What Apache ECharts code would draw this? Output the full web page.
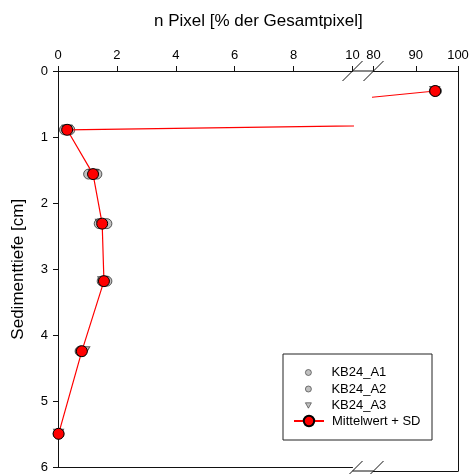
<!DOCTYPE html>
<html>
<head>
<meta charset="utf-8">
<script src="https://cdn.jsdelivr.net/npm/echarts@6/dist/echarts.min.js"></script>
<style>
  html, body { margin: 0; padding: 0; background: #fff; }
  #chart { width: 472px; height: 474px; }
</style>
</head>
<body>
<div id="chart"></div>
<script>
// Sediment depth (cm) for each sampled layer
const depth = [0.3, 0.89, 1.56, 2.31, 3.18, 4.24, 5.49];
// Pixel share (% of total pixels) per replicate and their mean
const kb24A1 = [94.4, 0.22, 1.04, 1.40, 1.50, 0.75, 0.01];
const kb24A2 = [94.9, 0.40, 1.32, 1.66, 1.66, 0.77, 0.03];
const kb24A3 = [94.5, 0.31, 1.21, 1.44, 1.52, 0.91, 0.02];
const mittelwert = [94.6, 0.31, 1.19, 1.50, 1.56, 0.81, 0.02];

// Axis ranges of the broken x axis and the depth axis
const xLowTicks = [0, 2, 4, 6, 8, 10];
const xHighTicks = [80, 90, 100];
const depthTicks = [0, 1, 2, 3, 4, 5, 6];

const FONT = 'Liberation Sans, Arial, Helvetica, sans-serif';
const TRIANGLE_DOWN = 'path://M0,0 L10,0 L5,9 Z';

// Plot layout (pixels)
const TOP = 71, HEIGHT = 400;
const LOW_LEFT = 58, LOW_W = 294.5;
const HIGH_LEFT = 373.5, HIGH_W = 84.5;
const BOTTOM = TOP + HEIGHT;
const GAP_L = LOW_LEFT + LOW_W, GAP_R = HIGH_LEFT;

const pairs = vals => vals.map((v, i) => [v, depth[i]]);

const labelStyle = { fontFamily: FONT, fontSize: 13, color: '#000' };
const lineStyleAxis = { color: '#111', width: 1 };

function topAxis(grid, min, max, step) {
  return {
    type: 'value', gridIndex: grid, position: 'top', min: min, max: max, interval: step,
    axisLine: { show: true, onZero: false, lineStyle: lineStyleAxis },
    axisTick: { show: true, inside: false, length: 5, lineStyle: lineStyleAxis },
    axisLabel: Object.assign({ margin: 9, showMinLabel: true, showMaxLabel: true }, labelStyle),
    splitLine: { show: false }
  };
}
function bottomAxis(grid, min, max) {
  return {
    type: 'value', gridIndex: grid, position: 'bottom', min: min, max: max,
    axisLine: { show: true, onZero: false, lineStyle: lineStyleAxis },
    axisTick: { show: false }, axisLabel: { show: false }, splitLine: { show: false }
  };
}

function seriesFor(grid) {
  const ax = { xAxisIndex: grid * 2, yAxisIndex: grid };
  const grey = { color: '#b0b0b0', borderColor: '#333', borderWidth: 1 };
  return [
    Object.assign({ name: 'KB24_A1', type: 'scatter', data: pairs(kb24A1), symbol: 'circle', symbolSize: 10, itemStyle: grey, z: 2 }, ax),
    Object.assign({ name: 'KB24_A2', type: 'scatter', data: pairs(kb24A2), symbol: 'circle', symbolSize: 10, itemStyle: grey, z: 2 }, ax),
    Object.assign({ name: 'KB24_A3', type: 'scatter', data: pairs(kb24A3), symbol: TRIANGLE_DOWN, symbolSize: [10, 9], itemStyle: grey, z: 2 }, ax),
    Object.assign({
      name: 'Mittelwert + SD', type: 'line', data: pairs(mittelwert), clip: true,
      symbol: 'circle', symbolSize: 11, showAllSymbol: true,
      lineStyle: { color: '#ff0000', width: 1.2 },
      itemStyle: { color: '#ff0000', borderColor: '#000', borderWidth: 1 },
      z: 3
    }, ax)
  ];
}

// Break marks and the axis pieces that bridge the gap
const breakGraphics = [];
[TOP, BOTTOM].forEach(y => {
  breakGraphics.push({ type: 'line', shape: { x1: GAP_L, y1: y, x2: GAP_R, y2: y }, style: { stroke: '#111', lineWidth: 1 }, z: 5 });
  [GAP_L, GAP_R].forEach(c => {
    breakGraphics.push({ type: 'line', shape: { x1: c - 10, y1: y + 10, x2: c + 10, y2: y - 10 }, style: { stroke: '#111', lineWidth: 1 }, z: 5 });
  });
});

const chart = echarts.init(document.getElementById('chart'), null, { renderer: 'canvas' });
chart.setOption({
  animation: false,
  backgroundColor: '#fff',
  title: {
    text: 'n Pixel [% der Gesamtpixel]', left: 154, top: 13, padding: 0,
    textStyle: { fontFamily: FONT, fontSize: 17, fontWeight: 'normal', color: '#000' }
  },
  grid: [
    { left: LOW_LEFT, top: TOP, width: LOW_W, height: HEIGHT, containLabel: false },
    { left: HIGH_LEFT, top: TOP, width: HIGH_W, height: HEIGHT, containLabel: false }
  ],
  xAxis: [
    topAxis(0, xLowTicks[0], xLowTicks[xLowTicks.length - 1], xLowTicks[1] - xLowTicks[0]),
    bottomAxis(0, xLowTicks[0], xLowTicks[xLowTicks.length - 1]),
    topAxis(1, xHighTicks[0], xHighTicks[xHighTicks.length - 1], xHighTicks[1] - xHighTicks[0]),
    bottomAxis(1, xHighTicks[0], xHighTicks[xHighTicks.length - 1])
  ],
  yAxis: [
    {
      type: 'value', gridIndex: 0, position: 'left', inverse: true,
      min: depthTicks[0], max: depthTicks[depthTicks.length - 1], interval: 1,
      name: 'Sedimenttiefe [cm]', nameLocation: 'middle', nameGap: 31,
      nameTextStyle: { fontFamily: FONT, fontSize: 17, color: '#000' },
      axisLine: { show: true, onZero: false, lineStyle: lineStyleAxis },
      axisTick: { show: true, inside: false, length: 5, lineStyle: lineStyleAxis },
      axisLabel: Object.assign({ margin: 10 }, labelStyle),
      splitLine: { show: false }
    },
    {
      type: 'value', gridIndex: 1, position: 'right', inverse: true,
      min: depthTicks[0], max: depthTicks[depthTicks.length - 1],
      axisLine: { show: true, onZero: false, lineStyle: lineStyleAxis },
      axisTick: { show: false }, axisLabel: { show: false }, splitLine: { show: false }
    }
  ],
  legend: [
    {
      data: [
        { name: 'KB24_A1' },
        { name: 'KB24_A2' },
        { name: 'KB24_A3', icon: TRIANGLE_DOWN }
      ],
      orient: 'vertical',
      left: 305, top: 366, padding: 0, itemWidth: 6, itemHeight: 6, itemGap: 3.5,
      selectedMode: false,
      itemStyle: { borderWidth: 0.8 },
      textStyle: { fontFamily: FONT, fontSize: 13, color: '#000', padding: [0, 0, 0, 15] }
    },
    {
      data: ['Mittelwert + SD'], orient: 'vertical',
      left: 293, top: 414.5, padding: 0, itemWidth: 30, itemHeight: 13,
      selectedMode: false,
      textStyle: { fontFamily: FONT, fontSize: 13, color: '#000', lineHeight: 13, padding: [0, 0, 0, 3] }
    }
  ],
  graphic: [
    { type: 'rect', shape: { x: 283, y: 354, width: 149, height: 86 }, style: { fill: '#fff', stroke: '#222', lineWidth: 1 }, z: 1 }
  ].concat(breakGraphics),
  series: seriesFor(0).concat(seriesFor(1))
});
</script>
</body>
</html>
